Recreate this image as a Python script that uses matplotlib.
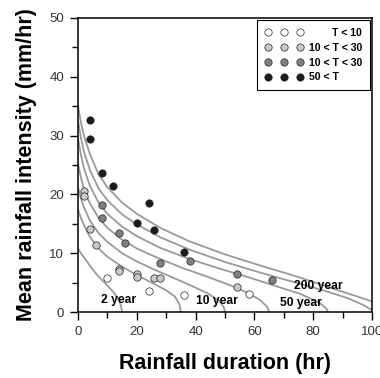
import numpy as np
import matplotlib
matplotlib.use('Agg')
import matplotlib.pyplot as plt
from matplotlib.lines import Line2D

plt.rcParams['font.family'] = ['Liberation Sans', 'DejaVu Sans']

# Return-period curves (duration hr, intensity mm/hr)
c2_x = [0, 1, 2, 4, 6, 8, 10, 12, 13.5, 14.5, 15]
c2_y = [10.8, 10.0, 9.3, 7.9, 6.6, 5.5, 4.5, 3.4, 2.4, 1.3, 0]
c5_x = [0, 1, 2, 4, 7, 10, 15, 20, 25, 30, 33, 34.5, 35]
c5_y = [17.4, 16.0, 14.8, 12.8, 10.8, 9.4, 7.7, 6.3, 5.0, 3.7, 2.6, 1.3, 0]
c10_x = [0, 1, 2, 4, 7, 10, 15, 20, 26, 32, 38, 44, 48, 49.6, 50]
c10_y = [21.2, 19.3, 17.8, 15.6, 13.4, 11.9, 10.0, 8.6, 7.2, 5.9, 4.6, 3.2, 1.9, 0.8, 0]
c20_x = [0, 1, 2, 4, 7, 10, 15, 20, 28, 36, 44, 52, 58, 62, 64.5, 65]
c20_y = [25.2, 22.8, 21.0, 18.5, 16.0, 14.3, 12.3, 10.8, 9.0, 7.4, 6.0, 4.5, 3.2, 2.0, 0.8, 0]
c50_x = [0, 1, 2, 4, 7, 10, 15, 20, 28, 38, 48, 58, 68, 76, 82, 84.5, 85]
c50_y = [29.5, 26.7, 24.5, 21.5, 18.6, 16.7, 14.5, 12.9, 10.9, 9.0, 7.4, 5.9, 4.3, 3.0, 1.6, 0.6, 0]
c100_x = [0, 1, 2, 4, 7, 10, 15, 20, 28, 38, 50, 62, 74, 84, 92, 97, 100]
c100_y = [32.5, 29.6, 27.3, 24.2, 21.0, 19.0, 16.6, 14.9, 12.7, 10.6, 8.5, 6.7, 5.0, 3.6, 2.3, 1.2, 0.3]
c200_x = [0, 1, 2, 4, 7, 10, 15, 20, 28, 38, 50, 62, 74, 86, 94, 100]
c200_y = [35.0, 32.2, 30.0, 26.9, 23.4, 21.2, 18.6, 16.7, 14.3, 12.0, 9.8, 7.9, 6.1, 4.1, 2.8, 1.8]

# Observed events
white_x = [10, 24, 36, 58]
white_y = [5.7, 3.6, 2.9, 3.1]
light_x = [2, 2, 4, 6, 13.8, 13.8, 20, 20, 26, 28, 54]
light_y = [20.6, 19.7, 14.1, 11.4, 7.3, 7.0, 6.5, 6.0, 5.7, 5.7, 4.2]
dark_x = [8, 8, 13.8, 16, 28, 38, 54, 66]
dark_y = [18.2, 16.0, 13.5, 11.8, 8.4, 8.6, 6.5, 5.5]
black_x = [4, 4, 8, 12, 24, 20, 26, 36]
black_y = [32.6, 29.5, 23.6, 21.5, 18.6, 15.1, 14.0, 10.2]

curve_labels = ['2 year', '10 year', '50 year', '200 year']
curve_label_x = [13.8, 47.1, 75.7, 81.9]
curve_label_y = [2.1, 1.9, 1.5, 4.4]

legend_labels = ['        T < 10', '10 < T < 30', '10 < T < 30', '50 < T']

fig = plt.figure(figsize=(3.8, 3.78), dpi=100)
ax = fig.add_axes([0.2053, 0.1746, 0.7737, 0.7778])

curve_color = '#9a9a9a'
for cx, cy in [(c2_x, c2_y), (c5_x, c5_y), (c10_x, c10_y), (c20_x, c20_y),
               (c50_x, c50_y), (c100_x, c100_y), (c200_x, c200_y)]:
    ax.plot(cx, cy, color=curve_color, lw=1.3, zorder=2)

for lab, lx, ly in zip(curve_labels, curve_label_x, curve_label_y):
    ax.text(lx, ly, lab, ha='center', va='center', fontsize=8.7,
            fontweight='bold', zorder=3)

ms = 5.3
face = ['white', '#c8c8c8', '#808080', '#1a1a1a']
for px, py, fc in zip([white_x, light_x, dark_x, black_x],
                      [white_y, light_y, dark_y, black_y], face):
    ax.plot(px, py, 'o', ms=ms, mfc=fc, mec='#222222', mew=0.5, zorder=4)

# legend: three markers per entry
handles = [Line2D([], [], ls='none', marker='o', ms=ms, mfc=fc,
                  mec='#222222', mew=0.5) for fc in face]
leg = ax.legend(handles, legend_labels, loc='upper right', numpoints=3,
                handlelength=3.6, handletextpad=0.55, labelspacing=0.45,
                borderpad=0.75, borderaxespad=0.2, fancybox=False,
                edgecolor='black', framealpha=1,
                prop={'size': 7.6, 'weight': 'bold'})
leg.get_frame().set_linewidth(0.8)

ax.set_xlim(0, 100)
ax.set_ylim(0, 50)
ax.set_xticks(np.arange(0, 101, 20))
ax.set_xticks(np.arange(10, 100, 20), minor=True)
ax.set_yticks(np.arange(0, 51, 10))
ax.set_yticks(np.arange(5, 50, 10), minor=True)
ax.tick_params(which='major', direction='out', length=6, width=1.0,
               labelsize=9.5, labelcolor='#333333', pad=4)
ax.tick_params(which='minor', direction='out', length=4, width=1.0)
for sp in ax.spines.values():
    sp.set_linewidth(1.1)

ax.set_xlabel('Rainfall duration (hr)', fontsize=15.5, fontweight='bold',
              labelpad=11)
ax.set_ylabel('Mean rainfall intensity (mm/hr)', fontsize=15.5,
              fontweight='bold', labelpad=9)

fig.savefig('out.png', dpi=100)
